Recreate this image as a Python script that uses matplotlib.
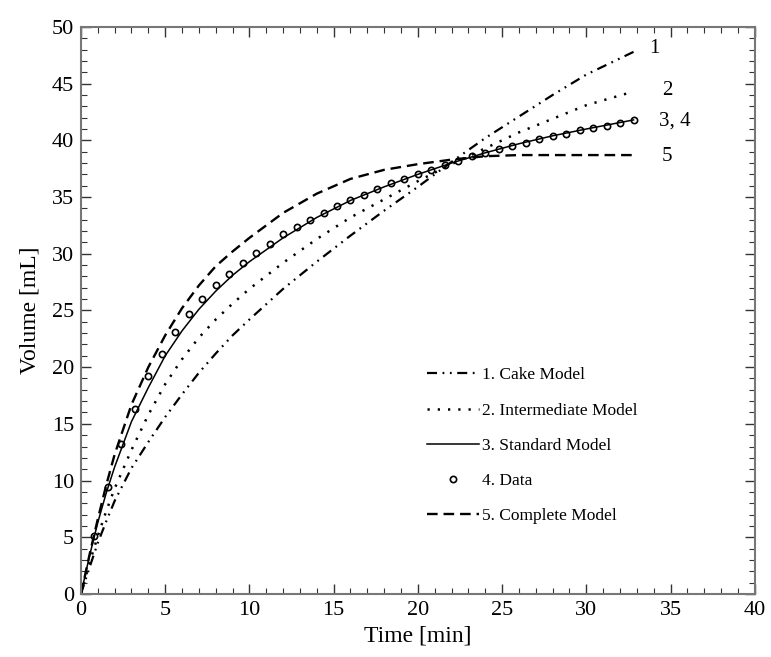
import numpy as np
import matplotlib
matplotlib.use('Agg')
import matplotlib.pyplot as plt
from matplotlib.ticker import MultipleLocator

plt.rcParams['font.family'] = ['Liberation Serif', 'DejaVu Serif']

# model curves
t_model = [0, 0.5, 1, 1.5, 2, 3, 4, 5, 6, 7, 8, 9, 10, 12, 14, 16, 18, 20, 22, 24, 26, 28, 30, 32.8]
cake = [0, 2.3, 4.5, 6.4, 8.2, 11.1, 13.4, 15.6, 17.6, 19.5, 21.2, 22.8, 24.2, 26.9, 29.3, 31.6, 33.8, 35.9, 38.1, 40.2, 42.1, 44.0, 45.8, 47.8]
intermediate = [0, 2.7, 5.1, 7.3, 9.3, 12.7, 15.8, 18.5, 20.7, 22.6, 24.2, 25.6, 26.9, 29.2, 31.3, 33.2, 34.8, 36.4, 37.9, 39.3, 40.7, 41.9, 43.1, 44.3]
standard = [0, 3.3, 6.3, 8.9, 11.2, 15.2, 18.2, 21.0, 23.2, 25.1, 26.7, 28.1, 29.3, 31.4, 33.2, 34.7, 35.9, 37.0, 38.0, 38.9, 39.7, 40.4, 41.0, 41.8]
complete = [0, 3.4, 6.6, 9.6, 12.3, 16.7, 20.0, 22.8, 25.2, 27.2, 28.9, 30.2, 31.4, 33.6, 35.3, 36.6, 37.4, 37.9, 38.3, 38.6, 38.7, 38.7, 38.7, 38.7]

# measured data
t_data = [0.8, 1.6, 2.4, 3.2, 4.0, 4.8, 5.6, 6.4, 7.2, 8.0, 8.8, 9.6, 10.4, 11.2,
          12.0, 12.8, 13.6, 14.4, 15.2, 16.0, 16.8, 17.6, 18.4, 19.2, 20.0, 20.8,
          21.6, 22.4, 23.2, 24.0, 24.8, 25.6, 26.4, 27.2, 28.0, 28.8, 29.6, 30.4,
          31.2, 32.0, 32.8]
v_data = [5.1, 9.4, 13.2, 16.3, 19.2, 21.2, 23.1, 24.7, 26.0, 27.2, 28.2, 29.2, 30.1, 30.9,
          31.7, 32.4, 33.0, 33.6, 34.2, 34.7, 35.2, 35.7, 36.2, 36.6, 37.0, 37.4,
          37.8, 38.2, 38.6, 38.9, 39.2, 39.5, 39.8, 40.1, 40.4, 40.6, 40.9, 41.1,
          41.3, 41.5, 41.8]

end_labels = ['1', '2', '3, 4', '5']
end_label_x = [33.7, 34.5, 34.3, 34.5]
end_label_y = [48.1, 44.4, 41.7, 38.6]

fig = plt.figure(figsize=(7.71, 6.57), dpi=100)
ax = fig.add_axes([0.105, 0.096, 0.874, 0.863])

ax.plot(t_model, cake, color='k', lw=1.6, linestyle=(0, (4.5, 2.5, 0.8, 2.5, 0.8, 2.5)), label='1. Cake Model')
ax.plot(t_model, intermediate, color='k', lw=1.8, linestyle=(0, (0.9, 3.2)), label='2. Intermediate Model')
ax.plot(t_model, standard, color='k', lw=1.1, linestyle='-', label='3. Standard Model')
ax.plot(t_data, v_data, linestyle='none', marker='o', ms=4.5, mfc='none', mec='k', mew=1.2, label='4. Data')
ax.plot(t_model, complete, color='k', lw=1.7, linestyle=(0, (4.5, 2.5)), label='5. Complete Model')

for xl, yl, s in zip(end_label_x, end_label_y, end_labels):
    ax.text(xl, yl, s, fontsize=15, va='center', ha='left')

ax.set_xlim(0, 40)
ax.set_ylim(0, 50)
ax.xaxis.set_major_locator(MultipleLocator(5))
ax.xaxis.set_minor_locator(MultipleLocator(1))
ax.yaxis.set_major_locator(MultipleLocator(5))
ax.yaxis.set_minor_locator(MultipleLocator(1))
ax.tick_params(which='both', direction='in', top=True, right=True, labelsize=16, pad=5, color='#333333')
ax.tick_params(which='major', length=7, width=1.0)
ax.tick_params(which='minor', length=4, width=0.8)
for sp in ax.spines.values():
    sp.set_color('#777777')
    sp.set_linewidth(1.5)

ax.set_xlabel('Time [min]', fontsize=17, labelpad=4)
ax.set_ylabel('Volume [mL]', fontsize=17, labelpad=8)

ax.legend(loc='upper left', bbox_to_anchor=(0.50, 0.415), frameon=False, fontsize=12.5,
          handlelength=3.0, handletextpad=0.2, labelspacing=1.1, borderpad=0, numpoints=1)

fig.savefig('out.png', dpi=100)
